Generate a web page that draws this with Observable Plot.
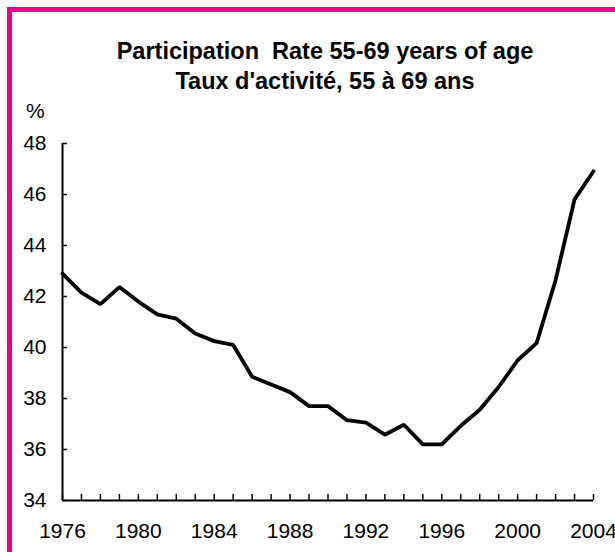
<!DOCTYPE html>
<html>
<head>
<meta charset="utf-8">
<script src="https://cdn.jsdelivr.net/npm/d3@7"></script>
<script src="https://cdn.jsdelivr.net/npm/@observablehq/plot@0.6"></script>
<style>
  html, body { margin: 0; padding: 0; background: #fff; }
  #wrap { position: relative; width: 615px; height: 552px; overflow: hidden; font-family: "Liberation Sans", Arial, sans-serif; color: #000; }
  #border { position: absolute; left: 7px; top: 7px; width: 800px; height: 800px; border-left: 5px solid #EC008C; border-top: 5px solid #EC008C; box-sizing: border-box; }
  .title { position: absolute; left: 0; width: 650px; text-align: center; font-weight: bold; font-size: 23.5px; line-height: 1; white-space: pre; }
  #unit { position: absolute; left: 26px; top: 100px; font-size: 21px; line-height: 1; }
  #chart { position: absolute; left: 0; top: 0; }
</style>
</head>
<body>
<div id="wrap">
  <div id="border"></div>
  <div class="title" style="top:40px">Participation  Rate 55-69 years of age</div>
  <div class="title" style="top:70px">Taux d'activité, 55 à 69 ans</div>
  <div id="unit">%</div>
  <div id="chart"></div>
</div>
<script>
const years = [1976,1977,1978,1979,1980,1981,1982,1983,1984,1985,1986,1987,1988,1989,1990,
               1991,1992,1993,1994,1995,1996,1997,1998,1999,2000,2001,2002,2003,2004];
const rate = [42.9,42.15,41.7,42.37,41.8,41.3,41.13,40.55,40.25,40.1,38.85,38.55,38.25,37.7,37.7,
              37.15,37.05,36.58,36.97,36.2,36.2,36.93,37.56,38.45,39.5,40.17,42.64,45.81,46.91];
const yTicks = [34,36,38,40,42,44,46,48];
const xLabels = [1976,1980,1984,1988,1992,1996,2000,2004];

const data = years.map((y, i) => ({year: y, rate: rate[i]}));

const chart = Plot.plot({
  width: 615,
  height: 552,
  marginLeft: 62,
  marginRight: 22,
  marginTop: 143,
  marginBottom: 52,
  style: { fontFamily: "'Liberation Sans', Arial, sans-serif", fontSize: "21px", color: "#000", background: "transparent", overflow: "visible" },
  x: { domain: [years[0], years[years.length - 1]] },
  y: { domain: [yTicks[0], yTicks[yTicks.length - 1]] },
  marks: [
    // inward y ticks
    Plot.axisY({ticks: yTicks, tickSize: 5, dx: 5, fill: "none", strokeWidth: 1.5, label: null}),
    // y labels
    Plot.axisY({ticks: yTicks, tickSize: 0, tickPadding: 16, stroke: "none", label: null, tickFormat: d => String(d)}),
    // inward x ticks (every year)
    Plot.axisX({ticks: years, tickSize: 6, dy: -6, fill: "none", strokeWidth: 1.5, label: null}),
    // x labels
    Plot.axisX({ticks: xLabels, tickSize: 0, tickPadding: 23, stroke: "none", label: null, tickFormat: d => String(d)}),
    Plot.ruleX([years[0]], {strokeWidth: 2}),
    Plot.ruleY([yTicks[0]], {strokeWidth: 2}),
    Plot.line(data, {x: "year", y: "rate", stroke: "#000", strokeWidth: 3.8, strokeLinejoin: "miter"})
  ]
});
document.getElementById("chart").appendChild(chart);
</script>
</body>
</html>
